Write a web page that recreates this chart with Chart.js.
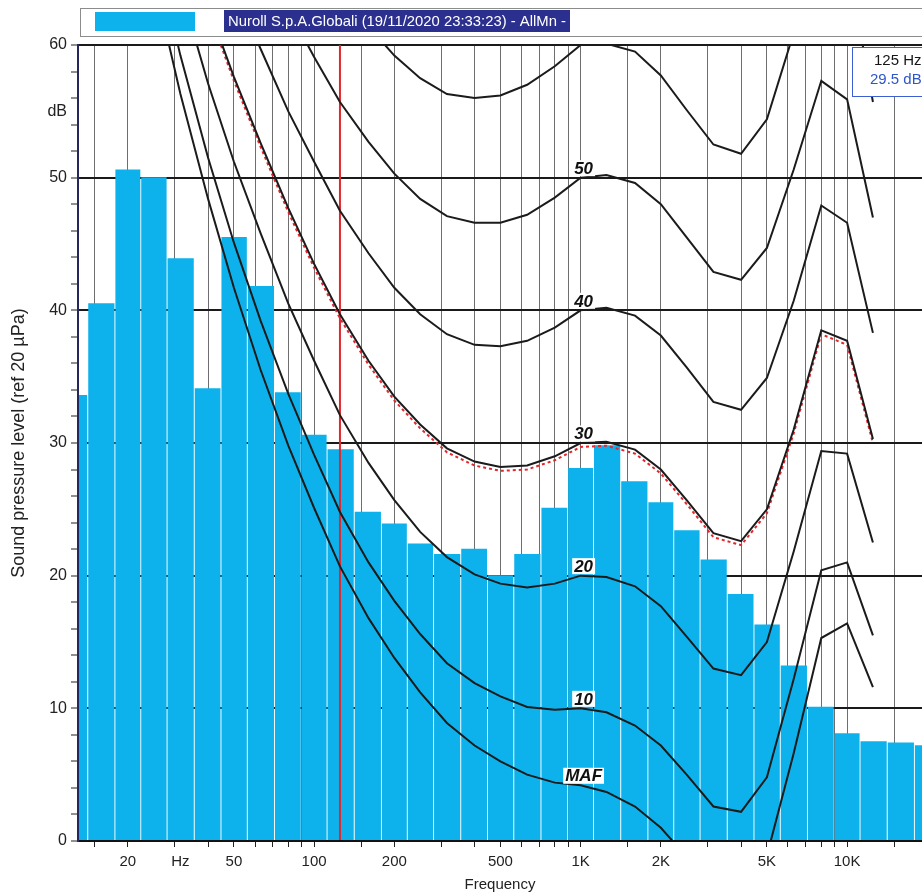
<!DOCTYPE html>
<html>
<head>
<meta charset="utf-8">
<script src="https://cdn.jsdelivr.net/npm/chart.js@4.4.1/dist/chart.umd.min.js"></script>
<style>
html,body{margin:0;padding:0;background:#fff;overflow:hidden}
#wrap{width:922px;height:896px;position:relative}
</style>
</head>
<body>
<div id="wrap"><canvas id="c" width="922" height="896"></canvas></div>
<script>
// ---- data ----
const seriesName = 'Nuroll S.p.A.Globali (19/11/2020 23:33:23) - AllMn -';
const bandFreqs = [12.5,16,20,25,31.5,40,50,63,80,100,125,160,200,250,315,400,500,630,800,1000,1250,1600,2000,2500,3150,4000,5000,6300,8000,10000,12500,16000,20000];
const bandLevels = [33.6,40.5,50.6,50.0,43.9,34.1,45.5,41.8,33.8,30.6,29.5,24.8,23.9,22.4,21.6,22.0,20.0,21.6,25.1,28.1,29.8,27.1,25.5,23.4,21.2,18.6,16.3,13.2,10.1,8.1,7.5,7.4,7.2];

const contourFreqs = [20,25,31.5,40,50,63,80,100,125,160,200,250,315,400,500,630,800,1000,1250,1600,2000,2500,3150,4000,5000,6300,8000,10000,12500];
const contourMAF = [74.3,65.0,56.3,48.4,41.7,35.5,29.8,25.1,20.7,16.8,13.8,11.2,8.9,7.2,6.0,5.0,4.4,4.2,3.7,2.6,1.0,-1.2,-3.6,-3.9,-1.1,6.6,15.3,16.4,11.6];
const contour10 = [76.8,67.7,59.2,51.5,45.1,39.2,33.7,29.1,24.8,21.0,18.1,15.6,13.4,11.9,10.9,10.1,9.9,10.0,9.7,8.7,7.2,5.0,2.6,2.2,4.8,12.2,20.4,21.0,15.5];
const contour20 = [81.3,72.5,64.3,57.1,51.2,45.8,40.5,36.2,32.1,28.5,25.7,23.3,21.4,20.1,19.4,19.1,19.4,20.0,19.9,19.2,17.7,15.4,13.0,12.5,15.0,21.8,29.4,29.2,22.5];
const contour30 = [86.0,77.6,69.7,62.9,57.6,52.6,47.7,43.5,39.7,36.2,33.5,31.4,29.6,28.6,28.2,28.3,29.0,30.0,30.1,29.5,28.0,25.7,23.2,22.6,25.0,31.0,38.5,37.7,30.3];
const contour40 = [91.0,82.9,75.4,69.0,64.3,59.7,55.0,51.2,47.5,44.3,41.7,39.7,38.2,37.4,37.3,37.7,38.7,40.0,40.2,39.6,38.1,35.7,33.1,32.5,34.9,40.7,47.9,46.6,38.3];
const contour50 = [96.2,88.5,81.3,75.4,71.3,67.1,62.7,59.1,55.7,52.7,50.3,48.4,47.1,46.6,46.6,47.2,48.5,50.0,50.2,49.6,48.0,45.5,42.9,42.3,44.7,50.6,57.3,55.9,47.0];
const contour60 = [101.7,94.4,87.6,82.1,78.6,74.8,70.6,67.3,64.2,61.4,59.2,57.5,56.3,56.0,56.2,57.0,58.4,60.0,60.1,59.5,57.7,55.1,52.5,51.8,54.4,60.9,67.7,66.5,55.7];
const loudnessCurve = [85.7,77.3,69.4,62.6,57.3,52.3,47.4,43.2,39.4,35.9,33.2,31.1,29.3,28.3,27.9,28.0,28.7,29.7,29.8,29.2,27.7,25.4,22.9,22.3,24.7,30.7,38.2,37.4,30.0];
const contourLabels = ['MAF','10','20','30','40','50'];
const labelFreq = 1000;

const xTickValues = [15,20,30,31.5,40,50,60,70,80,90,100,150,200,300,400,500,600,700,800,900,1000,1500,2000,3000,4000,5000,6000,7000,8000,9000,10000,15000];
const xTickLabels = {'20':'20','31.5':'Hz','50':'50','100':'100','200':'200','500':'500','1000':'1K','2000':'2K','5000':'5K','10000':'10K'};
const yTickValues = [0,2,4,6,8,10,12,14,16,18,20,22,24,26,28,30,32,34,36,38,40,42,44,46,48,50,52,54,55,56,58,60];
const yUnitTick = 55;
const cursorFreq = 125;

// ---- build ----
const BAR = '#0db2ec';
const FONT = '"Liberation Sans", Arial, sans-serif';
Chart.defaults.font.family = FONT;
const pts = (fs, vs) => fs.map((f, i) => ({x: f, y: vs[i]}));
const contourSets = [contourMAF, contour10, contour20, contour30, contour40, contour50, contour60];
const lineBase = {type: 'line', borderColor: '#1b1b1b', borderWidth: 2, pointRadius: 0, tension: 0, fill: false, order: 0};

const overlay = {
  id: 'overlay',
  beforeDraw(chart) {
    const c = chart.ctx; c.save(); c.fillStyle = '#fff'; c.fillRect(0, 0, chart.width, chart.height); c.restore();
  },
  afterDatasetsDraw(chart) {
    const {ctx, chartArea: a, scales: {x, y}} = chart;
    ctx.save();
    ctx.lineWidth = 2;
    ctx.strokeStyle = '#111';
    ctx.beginPath(); ctx.moveTo(a.left, a.bottom); ctx.lineTo(a.right, a.bottom); ctx.stroke();
    ctx.strokeStyle = '#25265e';
    ctx.beginPath(); ctx.moveTo(a.left, a.top); ctx.lineTo(a.left, a.bottom + 1); ctx.stroke();
    // contour labels
    ctx.font = 'italic bold 17px ' + FONT;
    ctx.textAlign = 'center'; ctx.textBaseline = 'middle';
    const li = contourFreqs.indexOf(labelFreq);
    const px = x.getPixelForValue(labelFreq) + 3;
    contourLabels.forEach((t, k) => {
      const py = y.getPixelForValue(contourSets[k][li]) - 9.5;
      const w = ctx.measureText(t).width + 4;
      ctx.fillStyle = '#fff'; ctx.fillRect(px - w / 2, py - 8, w, 16);
      ctx.fillStyle = '#111'; ctx.fillText(t, px, py + 1);
    });
    ctx.restore();
  },
  afterDraw(chart) {
    const ctx = chart.ctx;
    ctx.save();
    // top legend
    ctx.strokeStyle = '#8c8c8c'; ctx.lineWidth = 1;
    ctx.strokeRect(80.5, 8.5, 900, 28);
    ctx.fillStyle = BAR; ctx.fillRect(95, 12, 100, 19);
    ctx.fillStyle = '#2b2f8e'; ctx.fillRect(224, 10, 346, 22);
    ctx.fillStyle = '#fff'; ctx.font = '15px ' + FONT; ctx.textAlign = 'left'; ctx.textBaseline = 'middle';
    ctx.fillText(chart.data.datasets[0].label, 228, 21.5, 338);
    // cursor readout
    const lvl = bandLevels[bandFreqs.indexOf(cursorFreq)];
    ctx.fillStyle = '#fff'; ctx.fillRect(852, 47, 80, 50);
    ctx.strokeStyle = '#3d5fd3'; ctx.strokeRect(852.5, 47.5, 90, 49);
    ctx.font = '15px ' + FONT;
    ctx.fillStyle = '#151515'; ctx.fillText(cursorFreq + ' Hz', 874, 61);
    ctx.fillStyle = '#2f56c9'; ctx.fillText(lvl.toFixed(1) + ' dB', 870, 80);
    ctx.restore();
  }
};

const datasets = [
  {type: 'bar', label: seriesName, data: pts(bandFreqs, bandLevels), backgroundColor: BAR, borderWidth: 0,
   barThickness: 'flex', categoryPercentage: 1, barPercentage: 0.94, order: 3},
  {type: 'line', label: 'loudness', data: pts(contourFreqs, loudnessCurve), borderColor: '#e3262d', borderWidth: 2,
   borderDash: [3, 3], pointRadius: 0, tension: 0, fill: false, order: 2},
  {type: 'line', label: 'cursor', data: [{x: cursorFreq, y: 0}, {x: cursorFreq, y: 60}], borderColor: '#e3262d',
   borderWidth: 2, pointRadius: 0, fill: false, order: 1},
  Object.assign({label: 'MAF', data: pts(contourFreqs, contourMAF)}, lineBase),
  Object.assign({label: '10', data: pts(contourFreqs, contour10)}, lineBase),
  Object.assign({label: '20', data: pts(contourFreqs, contour20)}, lineBase),
  Object.assign({label: '30', data: pts(contourFreqs, contour30)}, lineBase),
  Object.assign({label: '40', data: pts(contourFreqs, contour40)}, lineBase),
  Object.assign({label: '50', data: pts(contourFreqs, contour50)}, lineBase),
  Object.assign({label: '60', data: pts(contourFreqs, contour60)}, lineBase)
];

new Chart(document.getElementById('c'), {
  type: 'bar',
  data: {datasets},
  plugins: [overlay],
  options: {
    responsive: false, animation: false, devicePixelRatio: 1,
    layout: {padding: {top: 45, left: 0, right: 0, bottom: 0}},
    plugins: {legend: {display: false}, tooltip: {enabled: false}},
    scales: {
      x: {
        type: 'logarithmic', min: 13.0, max: 19100, bounds: 'data', offset: false,
        afterBuildTicks: s => { s.ticks = xTickValues.map(v => ({value: v})); },
        afterFit: s => { s.height = 55; },
        grid: {offset: false, lineWidth: 1, tickLength: 6, tickWidth: 1,
          color: c => (c.tick && xTickLabels[String(c.tick.value)] === 'Hz') ? 'rgba(0,0,0,0)' : '#6e6e6e',
          tickColor: c => (c.tick && xTickLabels[String(c.tick.value)] === 'Hz') ? 'rgba(0,0,0,0)' : '#222'},
        border: {display: true, color: '#111', width: 2},
        ticks: {autoSkip: false, maxRotation: 0, minRotation: 0, padding: 6, color: '#222', font: {size: 15},
          callback: v => xTickLabels[String(v)] || ''},
        title: {display: true, text: 'Frequency', color: '#222', font: {size: 15}, padding: {top: 0, bottom: 2}}
      },
      y: {
        type: 'linear', min: 0, max: 60,
        afterBuildTicks: s => { s.ticks = yTickValues.map(v => ({value: v})); },
        afterFit: s => { s.width = 78; },
        grid: {lineWidth: 2, tickLength: 7, tickWidth: 1,
          color: c => (c.tick && c.tick.value % 10 === 0) ? '#1a1a1a' : 'rgba(0,0,0,0)',
          tickColor: c => (c.tick && c.tick.value === yUnitTick) ? 'rgba(0,0,0,0)' : '#222'},
        border: {color: '#25265e', width: 2},
        ticks: {autoSkip: false, padding: 4, color: '#222', font: {size: 16},
          callback: v => v === yUnitTick ? 'dB' : (v % 10 === 0 ? String(v) : '')},
        title: {display: true, text: 'Sound pressure level (ref 20 µPa)', color: '#222', font: {size: 18}, padding: {top: 8, bottom: 0}}
      }
    }
  }
});
</script>
</body>
</html>
